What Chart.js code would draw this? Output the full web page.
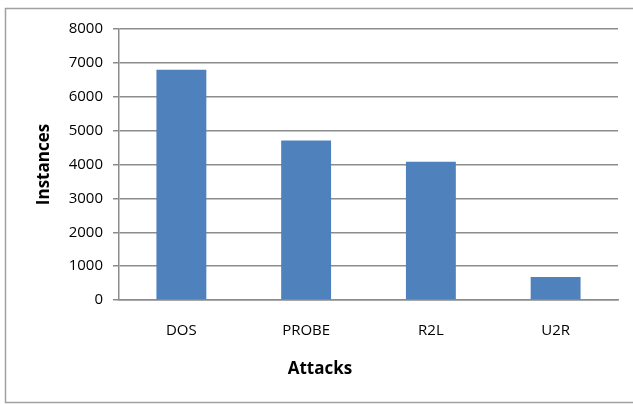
<!DOCTYPE html>
<html>
<head>
<meta charset="utf-8">
<script src="https://cdn.jsdelivr.net/npm/chart.js@4/dist/chart.umd.min.js"></script>
<style>
  html, body { margin: 0; padding: 0; background: #fff; }
  #wrap { width: 633px; height: 404px; position: relative; }
</style>
</head>
<body>
<div id="wrap"><canvas id="attackChart" width="633" height="404"></canvas></div>
<script>
// Attack classes and instance counts
const attackLabels = ['DOS', 'PROBE', 'R2L', 'U2R'];
const instanceCounts = [6800, 4710, 4080, 680];
const yTickValues = [0, 1000, 2000, 3000, 4000, 5000, 6000, 7000, 8000];

const FONT = "'Open Sans', 'Liberation Sans', sans-serif";

// white page plus the thin grey frame around the chart area
const frame = {
    id: 'frame',
    beforeDraw(chart) {
        const ctx = chart.ctx;
        ctx.save();
        ctx.fillStyle = '#ffffff';
        ctx.fillRect(0, 0, chart.width, chart.height);
        ctx.strokeStyle = '#a0a0a0';
        ctx.lineWidth = 1.5;
        ctx.strokeRect(5.5, 8.5, chart.width + 10, 394);
        ctx.restore();
    }
};

const ctx = document.getElementById('attackChart').getContext('2d');
new Chart(ctx, {
    type: 'bar',
    data: {
        labels: attackLabels,
        datasets: [{
            label: 'Instances',
            data: instanceCounts,
            backgroundColor: '#4f81bd',
            borderWidth: 0,
            categoryPercentage: 1,
            barPercentage: 0.4
        }]
    },
    plugins: [frame],
    options: {
        responsive: false,
        animation: false,
        layout: { padding: { top: 29, right: 15, bottom: 0, left: 22 } },
        plugins: {
            legend: { display: false },
            tooltip: { enabled: false },
            // x-axis caption sits centred on the whole chart, not the plot
            title: {
                display: true,
                position: 'bottom',
                text: 'Attacks',
                color: '#000',
                padding: { top: 0, bottom: 25 },
                font: { family: FONT, size: 17, weight: 'bold', lineHeight: 1.2 }
            }
        },
        scales: {
            x: {
                grid: { display: false, drawTicks: false },
                border: { display: true, color: '#8c8c8c', width: 1.5 },
                ticks: { color: '#000', padding: 22, font: { family: FONT, size: 15 } },
                afterFit(scale) { scale.height = 58.6; }
            },
            y: {
                min: 0,
                max: 8000,
                afterBuildTicks(scale) { scale.ticks = yTickValues.map(v => ({ value: v })); },
                grid: { color: '#8c8c8c', lineWidth: 1.5, tickLength: 6, drawTicks: true },
                border: { display: true, color: '#8c8c8c', width: 1.5 },
                ticks: {
                    color: '#000', padding: 10,
                    font: { family: FONT, size: 15 },
                    callback: (value) => String(value)
                },
                title: {
                    display: true, text: 'Instances', color: '#000',
                    padding: { top: 12, bottom: 0 },
                    font: { family: FONT, size: 17, weight: 'bold' }
                },
                afterFit(scale) { scale.width = 97; }
            }
        }
    }
});
</script>
</body>
</html>
